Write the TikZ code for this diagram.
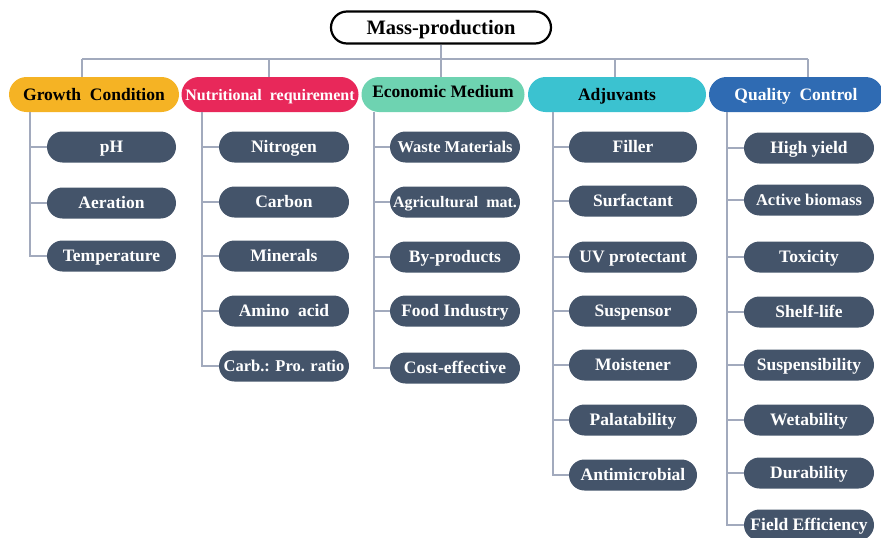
\documentclass[tikz,border=0pt]{standalone}
\usepackage{fontspec}
\setmainfont{Liberation Serif}
\usetikzlibrary{calc}
\definecolor{itemfill}{HTML}{44546A}
\definecolor{linec}{HTML}{A2AABD}
\definecolor{cOrange}{HTML}{F5B324}
\definecolor{cRed}{HTML}{E8285A}
\definecolor{cMint}{HTML}{6ED3B1}
\definecolor{cCyan}{HTML}{3BC2D0}
\definecolor{cBlue}{HTML}{2F6BB3}
\tikzset{
  item/.style={draw=none, fill=itemfill, text=white, font=\fontsize{17.5}{19}\selectfont\bfseries,
    minimum width=130pt, minimum height=31pt, rounded corners=15.5pt, inner sep=0pt,
    text height=11.6pt, text depth=0pt},
  cat/.style={draw=none, text=black, font=\fontsize{17.5}{19}\selectfont\bfseries,
    minimum height=35pt, rounded corners=17.5pt, inner sep=0pt,
    text height=11.6pt, text depth=0pt},
  conn/.style={draw=linec, line width=1.4pt},
}
\begin{document}
\begin{tikzpicture}[x=1pt,y=-1pt]
\useasboundingbox (0,0) rectangle (881,538);
% title
\node[draw=black, line width=2.2pt, fill=white, minimum width=220pt, minimum height=32pt,
  rounded corners=16pt, font=\fontsize{20.5}{22}\selectfont\bfseries, inner sep=0pt,
  text height=13.5pt, text depth=0pt] (title) at (441,27.5) {Mass-production};
% categories
\node[cat, fill=cOrange, minimum width=170pt] (c1) at (94,94.5) {Growth\ \ Condition};
\node[cat, fill=cRed, text=white, minimum width=177pt, font=\fontsize{16}{18}\selectfont\bfseries] (c2) at (270,94.5) {Nutritional\ \ requirement};
\node[cat, fill=cMint, minimum width=163pt] (c3) at (443,94.5) {\raisebox{2.5pt}{Economic Medium}};
\node[cat, fill=cCyan, minimum width=178pt] (c4) at (617,94.5) {Adjuvants};
\node[cat, fill=cBlue, text=white, minimum width=174pt] (c5) at (796,94.5) {Quality\ \ Control};
% bus
\coordinate (busL) at (82,59);
\coordinate (busR) at (808,59);
\draw[conn] (busL) -- (busR);
\draw[conn] (title.south) -- (title.south |- busL);
\coordinate (d1) at (82,77);
\coordinate (d2) at (269,77);
\coordinate (d4) at (615,77);
\coordinate (d5) at (808,77);
\draw[conn] (d1) -- (d1 |- busL);
\draw[conn] (d2) -- (d2 |- busL);
\draw[conn] (c3.north -| title.south) -- (title.south |- busL);
\draw[conn] (d4) -- (d4 |- busL);
\draw[conn] (d5) -- (d5 |- busL);
% spine start coordinates
\coordinate (s1) at (30,112);
\coordinate (s2) at (202,112);
\coordinate (s3) at (374,112);
\coordinate (s4) at (553,112);
\coordinate (s5) at (727,112);
% Growth
\node[item, minimum width=129pt] (g1) at (111.5,147) {pH};
\node[item, minimum width=129pt] (g2) at (111.5,203) {Aeration};
\node[item, minimum width=129pt] (g3) at (111.5,256) {Temperature};
% Nutritional
\node[item] (n1) at (284,147) {Nitrogen};
\node[item] (n2) at (284,202) {Carbon};
\node[item] (n3) at (284,256) {Minerals};
\node[item] (n4) at (284,311) {Amino\ \ acid};
\node[item, font=\fontsize{16.5}{18}\selectfont\bfseries] (n5) at (284,366) {Carb.: Pro. ratio};
% Economic
\node[item, font=\fontsize{16.5}{18}\selectfont\bfseries] (e1) at (455,147) {Waste Materials};
\node[item, font=\fontsize{16}{18}\selectfont\bfseries] (e2) at (455,202) {Agricultural\ \ mat.};
\node[item] (e3) at (455,257) {By-products};
\node[item] (e4) at (455,311) {Food Industry};
\node[item] (e5) at (455,368) {Cost-effective};
% Adjuvants
\node[item, minimum width=128pt] (a1) at (633,147) {Filler};
\node[item, minimum width=128pt] (a2) at (633,201) {Surfactant};
\node[item, minimum width=128pt] (a3) at (633,257) {UV protectant};
\node[item, minimum width=128pt] (a4) at (633,311) {Suspensor};
\node[item, minimum width=128pt] (a5) at (633,365) {Moistener};
\node[item, minimum width=128pt] (a6) at (633,420) {Palatability};
\node[item, minimum width=128pt] (a7) at (633,475) {Antimicrobial};
% Quality
\node[item] (q1) at (809,148) {High yield};
\node[item, font=\fontsize{16.5}{18}\selectfont\bfseries] (q2) at (809,200) {Active biomass};
\node[item] (q3) at (809,257) {Toxicity};
\node[item] (q4) at (809,312) {Shelf-life};
\node[item] (q5) at (809,365) {Suspensibility};
\node[item] (q6) at (809,420) {Wetability};
\node[item] (q7) at (809,473) {Durability};
\node[item] (q8) at (809,525) {Field Efficiency};
% connectors
\foreach \i in {1,2,3} \draw[conn] (s1) |- (g\i.west);
\foreach \i in {1,...,5} \draw[conn] (s2) |- (n\i.west);
\foreach \i in {1,...,5} \draw[conn] (s3) |- (e\i.west);
\foreach \i in {1,...,7} \draw[conn] (s4) |- (a\i.west);
\foreach \i in {1,...,8} \draw[conn] (s5) |- (q\i.west);
\end{tikzpicture}
\end{document}
